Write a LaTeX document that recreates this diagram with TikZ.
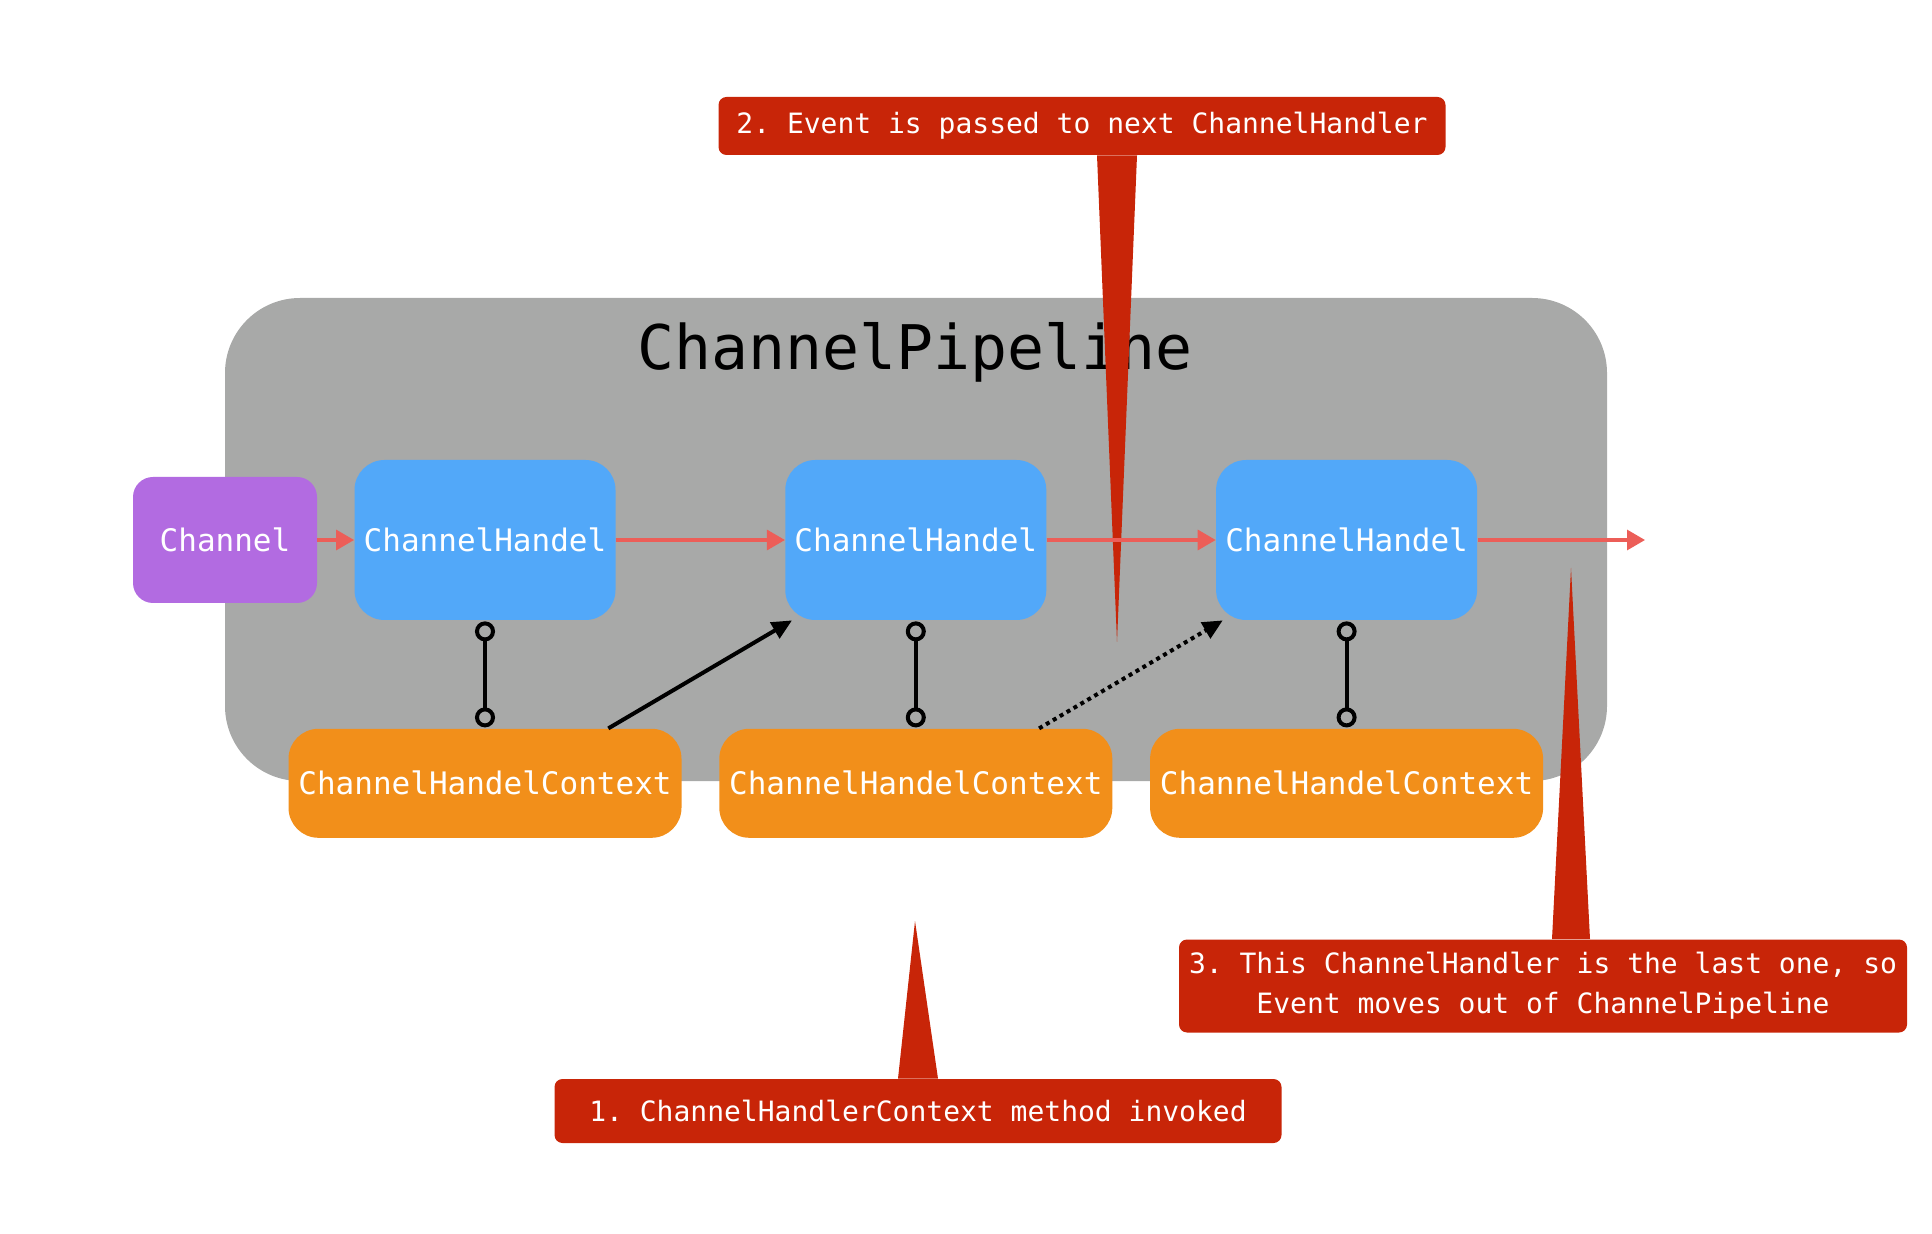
\documentclass[tikz,border=0pt]{standalone}
\usepackage{fontspec}
\setmonofont{DejaVu Sans Mono}
\usepackage{xcolor}
\usepackage{tikz}
\usetikzlibrary{positioning, shapes, calc, arrows.meta, backgrounds}

\definecolor{pipegray}{RGB}{168,169,168}
\definecolor{handblue}{RGB}{82,168,249}
\definecolor{chanpurple}{RGB}{178,107,225}
\definecolor{ctxorange}{RGB}{242,143,26}
\definecolor{flowred}{RGB}{236,94,88}
\definecolor{notered}{RGB}{200,37,8}

\begin{document}
\begin{tikzpicture}[x=0.5pt, y=-0.5pt,
    box/.style={rounded corners=15pt, inner sep=0pt, text=white, font=\ttfamily\fontsize{15.5}{18}\selectfont},
    handler/.style={box, fill=handblue, minimum width=130.5pt, minimum height=80pt},
    context/.style={box, fill=ctxorange, minimum width=196.5pt, minimum height=54.5pt},
    chan/.style={box, fill=chanpurple, rounded corners=10pt, minimum width=92pt, minimum height=63pt},
    note/.style={fill=notered, rounded corners=4pt, inner sep=0pt, text=white, align=center, font=\ttfamily\fontsize{14}{20}\selectfont},
    flow/.style={-{Triangle[length=9pt,width=10pt]}, flowred, line width=1.6pt},
    invoke/.style={-{Triangle[length=10pt,width=9pt]}, line width=2pt},
    bind/.style={{Circle[open,length=10pt]}-{Circle[open,length=10pt]}, line width=2pt, shorten <=0.5pt, shorten >=0.5pt}]
        \useasboundingbox (0,0) rectangle (1932,1234);
        \fill[pipegray, rounded corners=37.5pt] (225,298) rectangle (1607,781);
        \node[anchor=base, font=\ttfamily\fontsize{30.75}{36}\selectfont] (title) at (915,370) {ChannelPipeline};

        \node[chan] (chan) at (225,540) {Channel};
        \node[handler] (h1) at (485,540) {ChannelHandel};
        \node[handler, right=84.5pt of h1] (h2) {ChannelHandel};
        \node[handler, right=84.5pt of h2] (h3) {ChannelHandel};
        \node[context, below=54pt of h1] (c1) {ChannelHandelContext};
        \node[context, below=54pt of h2] (c2) {ChannelHandelContext};
        \node[context, below=54pt of h3] (c3) {ChannelHandelContext};
        \coordinate (out) at (1645,540);

        \node[note, minimum width=363.5pt, minimum height=32pt] (n1) at (918,1111) {1. ChannelHandlerContext method invoked};
        \node[note, minimum width=363.5pt, minimum height=29pt] (n2) at (1082,126) {2. Event is passed to next ChannelHandler};
        \node[note, minimum width=364pt, minimum height=46.5pt] (n3) at (1543,986) {3. This ChannelHandler is the last one, so\\Event moves out of ChannelPipeline};
        \coordinate (tip1) at (915,921);
        \coordinate (tip2) at (1117,642);
        \coordinate (tip3) at (1571,568);
        \fill[notered] ([xshift=-10pt]n1.north) -- (tip1) -- ([xshift=10pt]n1.north) -- cycle;
        \fill[notered] ([xshift=7.5pt]n2.south) -- (tip2) -- ([xshift=27.5pt]n2.south) -- cycle;
        \fill[notered] ([xshift=4.5pt]n3.north) -- (tip3) -- ([xshift=23.5pt]n3.north) -- cycle;

        \draw[flow] (chan) -- (h1);
        \draw[flow] (h1) -- (h2);
        \draw[flow] (h2) -- (h3);
        \draw[flow] (h3) -- (out);
        \foreach \i in {1,2,3}
          \draw[bind] (h\i) -- (c\i);
        \draw[invoke] (c1.24) -- (h2.213);
        \draw[invoke, dash pattern=on 2pt off 2pt] (c2.24) -- (h3.213);
      \end{tikzpicture}
\end{document}
